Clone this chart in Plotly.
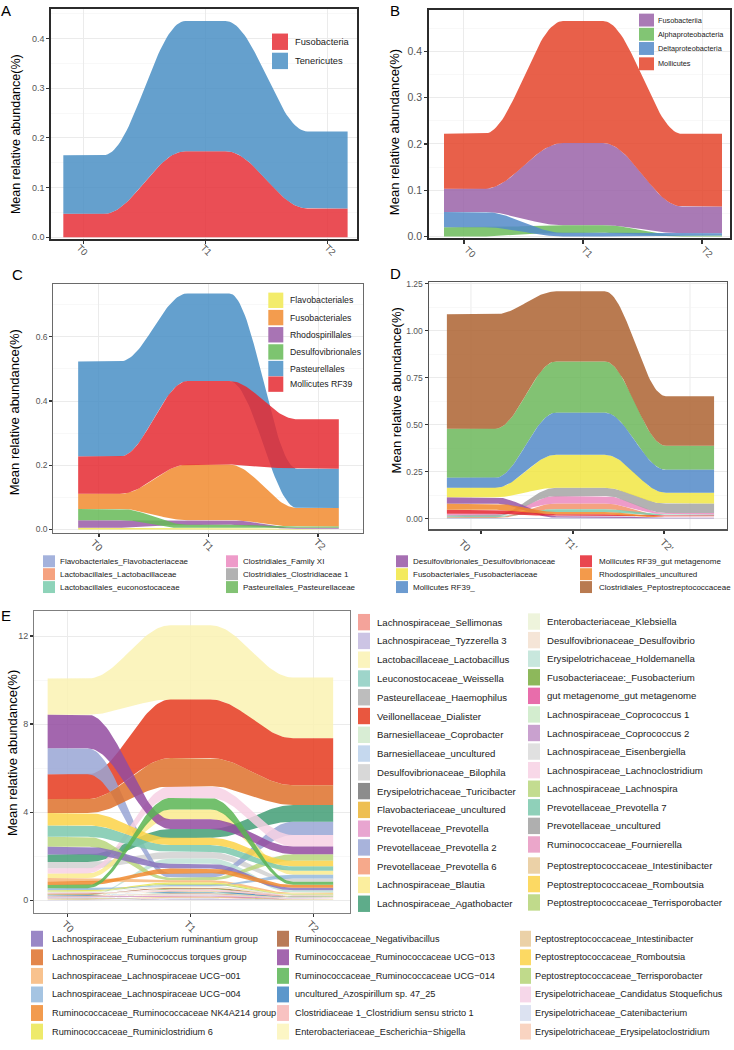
import numpy as np
import plotly.graph_objects as go

W, H = 734, 1050
FONT = "Liberation Sans, Arial, Helvetica, sans-serif"
ALPHA = 0.85

TIMES = ["T0", "T1", "T2"]
D_TIMES = ["T0", "T1'", "T2'"]

# ---------------- Panel A (phylum) ----------------
A_NAMES = ["Fusobacteria", "Tenericutes"]
A_COLORS = ["#EA4E55", "#65A0CD"]
A_T0 = [0.047, 0.118]
A_T1 = [0.173, 0.262]
A_T2 = [0.058, 0.155]

# ---------------- Panel B (class) ----------------
B_NAMES = ["Fusobacteriia", "Alphaproteobacteria", "Deltaproteobacteria", "Mollicutes"]
B_COLORS = ["#A97AB5", "#82C574", "#6C9BD0", "#E8604A"]
B_T0 = [0.050, 0.020, 0.033, 0.119]
B_T1 = [0.178, 0.016, 0.008, 0.264]
B_T2 = [0.058, 0.002, 0.005, 0.157]

# ---------------- Panel C (order) ----------------
C_NAMES = ["Flavobacteriales", "Fusobacteriales", "Rhodospirillales",
           "Desulfovibrionales", "Pasteurellales", "Mollicutes RF39"]
C_COLORS = ["#F3EC6B", "#F39C4E", "#A874B4", "#7DC470", "#64A0CE", "#E94A50"]
C_T0 = [0.005, 0.047, 0.024, 0.035, 0.296, 0.116]
C_T1 = [0.003, 0.173, 0.014, 0.012, 0.273, 0.260]
C_T2 = [0.002, 0.058, 0.003, 0.004, 0.122, 0.154]

# ---------------- Panel D (family) ----------------
D_NAMES = ["Flavobacteriales_Flavobacteriaceae", "Lactobacillales_Lactobacillaceae",
           "Lactobacillales_euconostocaceae", "Clostridiales_Family XI",
           "Clostridiales_Clostridiaceae 1", "Pasteurellales_Pasteurellaceae",
           "Desulfovibrionales_Desulfovibrionaceae", "Fusobacteriales_Fusobacteriaceae",
           "Mollicutes RF39_", "Mollicutes RF39_gut metagenome",
           "Rhodospirillales_uncultured", "Clostridiales_Peptostreptococcaceae"]
D_COLORS = ["#A4B2DC", "#F5A280", "#8ED3B9", "#EE9BC9", "#B2B2B2", "#82C274",
            "#A66FB2", "#F3EA5F", "#6C9BD0", "#E9464F", "#F39A4B", "#B97A50"]
D_T0 = [0.003, 0.004, 0.005, 0.008, 0.006, 0.261, 0.034, 0.051, 0.053, 0.021, 0.032, 0.610]
D_T1 = [0.005, 0.030, 0.015, 0.040, 0.044, 0.273, 0.008, 0.176, 0.224, 0.010, 0.012, 0.373]
D_T2 = [0.002, 0.004, 0.006, 0.008, 0.050, 0.128, 0.003, 0.058, 0.122, 0.004, 0.003, 0.264]

# ---------------- Panel E (genus) ----------------
E_NAMES = [
    "Lachnospiraceae_Sellimonas", "Lachnospiraceae_Tyzzerella 3", "Lactobacillaceae_Lactobacillus",
    "Leuconostocaceae_Weissella", "Pasteurellaceae_Haemophilus", "Veillonellaceae_Dialister",
    "Barnesiellaceae_Coprobacter", "Barnesiellaceae_uncultured", "Desulfovibrionaceae_Bilophila",
    "Erysipelotrichaceae_Turicibacter", "Flavobacteriaceae_uncultured", "Prevotellaceae_Prevotella",
    "Prevotellaceae_Prevotella 2", "Prevotellaceae_Prevotella 6", "Lachnospiraceae_Blautia",
    "Lachnospiraceae_Agathobacter", "Enterobacteriaceae_Klebsiella", "Desulfovibrionaceae_Desulfovibrio",
    "Erysipelotrichaceae_Holdemanella", "Fusobacteriaceae:_Fusobacterium", "gut metagenome_gut metagenome",
    "Lachnospiraceae_Coprococcus 1", "Lachnospiraceae_Coprococcus 2", "Lachnospiraceae_Eisenbergiella",
    "Lachnospiraceae_Lachnoclostridium", "Lachnospiraceae_Lachnospira", "Prevotellaceae_Prevotella 7",
    "Prevotellaceae_uncultured", "Ruminococcaceae_Fournierella", "Peptostreptococcaceae_Intestinibacter",
    "Peptostreptococcaceae_Romboutsia", "Peptostreptococcaceae_Terrisporobacter",
    "Lachnospiraceae_Eubacterium ruminantium group", "Lachnospiraceae_Ruminococcus torques group",
    "Lachnospiraceae_Lachnospiraceae UCG\u2212001", "Lachnospiraceae_Lachnospiraceae UCG\u2212004",
    "Ruminococcaceae_Ruminococcaceae NK4A214 group", "Ruminococcaceae_Ruminiclostridium 6",
    "Ruminococcaceae_Negativibacillus", "Ruminococcaceae_Ruminococcaceae UCG\u2212013",
    "Ruminococcaceae_Ruminococcaceae UCG\u2212014", "uncultured_Azospirillum sp. 47_25",
    "Clostridiaceae 1_Clostridium sensu stricto 1", "Enterobacteriaceae_Escherichia\u2212Shigella",
    "Erysipelotrichaceae_Candidatus Stoquefichus", "Erysipelotrichaceae_Catenibacterium",
    "Erysipelotrichaceae_Erysipelatoclostridium"]
E_COLORS = [
    "#F4A39A", "#CCC4E4", "#FBF4BE", "#9ED5CA", "#BDBDBD", "#E9573F", "#D8EDD4", "#C5D8EE",
    "#D8D8D8", "#8C8C8C", "#EEBF52", "#E8A5D0", "#A8B3DB", "#F6A98B", "#FBEE9E", "#5EAC8A",
    "#EEF4DC", "#F5E5D7", "#C8E7DD", "#8DB85B", "#E86DAB", "#D3EDCF", "#C9A1CF", "#E0E0E0",
    "#F8D8E8", "#C3DC90", "#8FD0B9", "#AFAFAF", "#EBA6CA", "#EBD1A7", "#FCD963", "#C0DA8B",
    "#9A87C6", "#E3864B", "#F8C28E", "#A5C4E2", "#F29B4E", "#EEEA6B", "#B97A57", "#A366AE",
    "#73C06E", "#5C97CB", "#F8C2C1", "#FCF6C5", "#F6D7E9", "#DCE2F1", "#F9D4C1"]
E_T0 = [0.010, 0.008, 1.64, 0.015, 0.012, 1.12, 0.010, 0.012, 0.30, 0.008, 0.010, 0.010,
        1.18, 0.015, 0.21, 0.34, 0.006, 0.008, 0.020, 0.020, 0.012, 0.010, 0.012, 0.025,
        0.22, 0.45, 0.52, 0.010, 0.010, 0.020, 0.56, 0.030, 0.35, 0.64, 0.16, 0.10,
        0.155, 0.030, 0.020, 1.53, 0.15, 0.015, 0.020, 0.025, 0.020, 0.010, 0.012]
E_T1 = [0.020, 0.016, 3.37, 0.026, 0.013, 2.66, 0.020, 0.023, 0.30, 0.013, 0.020, 0.016,
        0.20, 0.023, 0.45, 0.40, 0.013, 0.014, 0.24, 0.039, 0.020, 0.026, 0.020, 0.046,
        0.53, 0.12, 0.31, 0.016, 0.020, 0.033, 0.33, 0.052, 0.22, 1.28, 0.10, 0.05,
        0.21, 0.058, 0.039, 0.44, 0.52, 0.026, 0.033, 0.039, 0.033, 0.020, 0.020]
E_T2 = [0.008, 0.006, 2.75, 0.010, 0.006, 2.14, 0.008, 0.010, 0.15, 0.005, 0.007, 0.008,
        0.61, 0.010, 0.18, 0.75, 0.005, 0.006, 0.11, 0.012, 0.008, 0.009, 0.008, 0.020,
        0.52, 0.30, 0.20, 0.007, 0.008, 0.012, 0.25, 0.020, 0.12, 0.90, 0.05, 0.17,
        0.13, 0.020, 0.012, 0.35, 0.14, 0.010, 0.010, 0.015, 0.015, 0.008, 0.008]

E_LEG_R1 = E_NAMES[0:16]
E_LEG_R2 = E_NAMES[16:32]
E_LEG_B1 = E_NAMES[32:38]
E_LEG_B2 = E_NAMES[38:44]
E_LEG_B3 = ["Peptostreptococcaceae_Intestinibacter", "Peptostreptococcaceae_Romboutsia",
            "Peptostreptococcaceae_Terrisporobacter"] + E_NAMES[44:47]


# ---------------- helpers ----------------
def hx(p):
    return p / W


def vy(p):
    return 1 - p / H


def fill_rgba(c, a=ALPHA):
    rgb = [int(c[i:i + 2], 16) for i in (1, 3, 5)]
    base = [max(0, min(255, round((v - 255 * (1 - a)) / a))) for v in rgb]
    return "rgba(%d,%d,%d,%.2f)" % (base[0], base[1], base[2], a)


def smooth(s):
    return (1 - np.cos(np.pi * s)) / 2


def stack_bounds(by_time):
    nt, n = len(by_time), len(by_time[0])
    lows, highs = np.zeros((nt, n)), np.zeros((nt, n))
    for t, vals in enumerate(by_time):
        order = sorted(range(n), key=lambda i: (vals[i], i))
        base = 0.0
        for i in order:
            lows[t, i] = base
            base += vals[i]
            highs[t, i] = base
    return lows, highs


def band_xy(lo, hi, w, npts=40):
    centers = list(range(len(lo)))

    def edge(v):
        xs, ys = [], []
        for k, c in enumerate(centers):
            xs += [c - w, c + w]
            ys += [v[k], v[k]]
            if k < len(centers) - 1:
                a, b = c + w, centers[k + 1] - w
                s = np.linspace(0, 1, npts)[1:-1]
                xs += list(a + (b - a) * s)
                ys += list(v[k] + (v[k + 1] - v[k]) * smooth(s))
        return xs, ys

    xt, yt = edge(hi)
    xb, yb = edge(lo)
    return xt + xb[::-1] + [xt[0]], yt + yb[::-1] + [yt[0]]


PANELS = [
    dict(letter="A", names=A_NAMES, colors=A_COLORS, vals=[A_T0, A_T1, A_T2],
         box=(51, 5.7, 357, 237.3), xr=(-0.266, 2.242), yr=(-0.003, 0.46), w=0.165,
         dtick=0.1, fmt=".1f", ytf=9, line=(1.8, "#2b2b2b"), xt=[0, 1, 2],
         xlab=[(82, 248), (206, 248), (330, 248)], xlabels=TIMES, xls=9.5,
         letter_px=(6, 8), title_px=(16, 132), title_size=12.5),
    dict(letter="B", names=B_NAMES, colors=B_COLORS, vals=[B_T0, B_T1, B_T2],
         box=(429, 7, 730, 237), xr=(-0.294, 2.235), yr=(-0.0043, 0.490), w=0.168,
         dtick=0.1, fmt=".1f", ytf=10.5, line=(1.8, "#2b2b2b"), xt=[0, 1, 2],
         xlab=[(470, 250), (587, 250), (707, 250)], xlabels=TIMES, xls=9.5,
         letter_px=(395, 8), title_px=(394, 130), title_size=13),
    dict(letter="C", names=C_NAMES, colors=C_COLORS, vals=[C_T0, C_T1, C_T2],
         box=(53.3, 283.3, 362.7, 533.3), xr=(-0.417, 2.408), yr=(-0.0102, 0.763), w=0.19,
         dtick=0.2, fmt=".1f", ytf=8.5, line=(1, "#6a6a6a"), xt=[0, 1, 2],
         xlab=[(97, 546), (208, 546), (320, 545)], xlabels=TIMES, xls=10,
         letter_px=(17, 273), title_px=(14, 412), title_size=13),
    dict(letter="D", names=D_NAMES, colors=D_COLORS, vals=[D_T0, D_T1, D_T2],
         box=(428.7, 281, 727, 530), xr=(-0.386, 2.338), yr=(-0.058, 1.259), w=0.22,
         dtick=0.25, fmt=".2f", ytf=8.5, line=(1.2, "#555555"), xt=[0.092, 0.932, 1.763],
         xlab=[(465, 546), (571, 545), (667, 546)], xlabels=D_TIMES, xls=10,
         letter_px=(395, 272), title_px=(396, 390), title_size=13),
    dict(letter="E", names=E_NAMES, colors=E_COLORS, vals=[E_T0, E_T1, E_T2],
         box=(34, 612, 350, 915.7), xr=(-0.274, 2.30), yr=(-0.56, 13.14), w=0.163,
         dtick=4, fmt="d", ytf=9, line=(1, "#7f7f7f"), xt=[0, 1, 2],
         xlab=[(68, 930), (190, 930), (313, 930)], xlabels=TIMES, xls=10,
         letter_px=(6, 617), title_px=(13, 755), title_size=13),
]

fig = go.Figure()
shapes, annotations = [], []
layout_axes = {}

for k, p in enumerate(PANELS):
    idx = "" if k == 0 else str(k + 1)
    xname, yname = "x" + idx, "y" + idx
    lows, highs = stack_bounds(p["vals"])
    for i, (nm, col) in enumerate(zip(p["names"], p["colors"])):
        xs, ys = band_xy(lows[:, i], highs[:, i], p["w"])
        fig.add_trace(go.Scatter(x=xs, y=ys, mode="lines", fill="toself",
                                 fillcolor=fill_rgba(col), line=dict(width=0),
                                 name=nm, showlegend=False, hoverinfo="skip",
                                 xaxis=xname, yaxis=yname))
    x0, y0, x1, y1 = p["box"]
    lw, lc = p["line"]
    vgrid = p["letter"] != "D"
    layout_axes["xaxis" + idx] = dict(
        domain=[hx(x0), hx(x1)], range=list(p["xr"]), anchor=yname,
        tickmode="array", tickvals=p["xt"], showticklabels=False,
        ticks="outside", ticklen=3.5, tickwidth=1.2, tickcolor="#333333",
        showgrid=vgrid, gridcolor="#EBEBEB", gridwidth=1, zeroline=False,
        showline=True, mirror=True, linecolor=lc, linewidth=lw, fixedrange=True)
    layout_axes["yaxis" + idx] = dict(
        domain=[vy(y1), vy(y0)], range=list(p["yr"]), anchor=xname,
        tickmode="linear", tick0=0, dtick=p["dtick"], tickformat=p["fmt"],
        tickfont=dict(size=p["ytf"], color="#555555", family=FONT),
        ticks="outside", ticklen=3, tickwidth=1.2, tickcolor="#333333",
        showgrid=True, gridcolor="#EBEBEB", gridwidth=1, zeroline=False,
        minor=dict(dtick=p["dtick"] / 2, showgrid=True, gridcolor="#F4F4F4",
                   gridwidth=0.6, ticks=""),
        showline=True, mirror=True, linecolor=lc, linewidth=lw, fixedrange=True)
    if not vgrid:
        for gx in range(len(TIMES)):
            shapes.append(dict(type="line", xref=xname, yref=yname + " domain",
                               x0=gx, x1=gx, y0=0, y1=1, layer="below",
                               line=dict(color="#EBEBEB", width=1)))
    for (lx, ly), txt in zip(p["xlab"], p["xlabels"]):
        annotations.append(dict(x=hx(lx), y=vy(ly), xref="paper", yref="paper",
                                text=txt, showarrow=False, textangle=45,
                                xanchor="center", yanchor="middle",
                                font=dict(size=p["xls"], color="#555555", family=FONT)))
    lx, ly = p["letter_px"]
    annotations.append(dict(x=hx(lx), y=vy(ly), xref="paper", yref="paper",
                            text=p["letter"], showarrow=False, xanchor="center",
                            yanchor="middle", font=dict(size=15, color="black", family=FONT)))
    tx, ty = p["title_px"]
    annotations.append(dict(x=hx(tx), y=vy(ty), xref="paper", yref="paper",
                            text="Mean relative abundance(%)", showarrow=False,
                            textangle=-90, xanchor="center", yanchor="middle",
                            font=dict(size=p["title_size"], color="black", family=FONT)))


def legend_block(names, cmap, rows, kx0, kx1, kh, tx, size):
    for nm, yy in zip(names, rows):
        shapes.append(dict(type="rect", xref="paper", yref="paper",
                           x0=hx(kx0), x1=hx(kx1), y0=vy(yy + kh / 2), y1=vy(yy - kh / 2),
                           fillcolor=cmap[nm], line=dict(width=0), layer="above"))
        annotations.append(dict(x=hx(tx), y=vy(yy), xref="paper", yref="paper",
                                text=nm, showarrow=False, xanchor="left", yanchor="middle",
                                font=dict(size=size, color="#222222", family=FONT)))


legend_block(A_NAMES, dict(zip(A_NAMES, A_COLORS)), [39, 58.3], 272, 288, 16.5, 293, 9.3)
legend_block(B_NAMES, dict(zip(B_NAMES, B_COLORS)), [17.2, 31.5, 45.8, 61.2], 639, 654, 13, 656, 7.3)
legend_block(C_NAMES, dict(zip(C_NAMES, C_COLORS)),
             [299.3, 316.7, 334.0, 351.3, 368.0, 383.7], 268.3, 283.3, 15.5, 288, 8.7)

d_map = dict(zip(D_NAMES, D_COLORS))
d_rows = [562, 575, 588]
legend_block(D_NAMES[0:3], d_map, d_rows, 43, 55, 12, 58, 8)
legend_block(D_NAMES[3:6], d_map, d_rows, 226, 238, 12, 241, 8)
legend_block(D_NAMES[6:9], d_map, d_rows, 396, 408, 12, 411, 8)
legend_block(D_NAMES[9:12], d_map, d_rows, 580, 592, 12, 597, 8)

e_map = dict(zip(E_NAMES, E_COLORS))
r1_rows = [623.3 + 18.9 * i for i in range(16)]
r2_rows = [622.7 + 18.7 * i for i in range(13)] + [868.3, 887.0, 905.5]
legend_block(E_LEG_R1, e_map, r1_rows, 358, 370, 16.5, 375, 9.6)
legend_block(E_LEG_R2, e_map, r2_rows, 528, 540, 16.5, 545, 9.6)
b_rows = [942 + 18.7 * i for i in range(6)]
legend_block(E_LEG_B1, e_map, b_rows, 31, 43, 16, 50, 9.2)
legend_block(E_LEG_B2, e_map, b_rows, 277, 289, 16, 293, 9.2)
legend_block(E_LEG_B3, e_map, b_rows, 520, 531, 16, 533, 9.2)

fig.update_layout(width=W, height=H, margin=dict(l=0, r=0, t=0, b=0),
                  paper_bgcolor="white", plot_bgcolor="white",
                  font=dict(family=FONT), showlegend=False,
                  shapes=shapes, annotations=annotations, **layout_axes)

fig.write_html("out.html", config={"displayModeBar": False, "staticPlot": True},
               post_script="document.body.style.margin='0px';")
